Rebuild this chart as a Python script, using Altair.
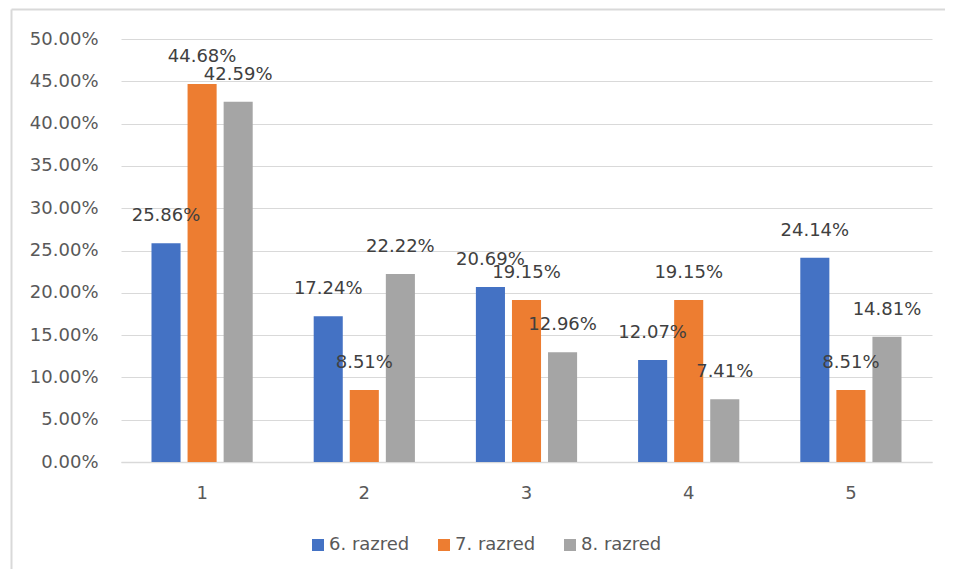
import altair as alt
import pandas as pd

categories = ["1", "2", "3", "4", "5"]
series = ["6. razred", "7. razred", "8. razred"]
values_6 = [25.86, 17.24, 20.69, 12.07, 24.14]
values_7 = [44.68, 8.51, 19.15, 19.15, 8.51]
values_8 = [42.59, 22.22, 12.96, 7.41, 14.81]
colors = ["#4472C4", "#ED7D31", "#A5A5A5"]
y_ticks = [0, 0.05, 0.10, 0.15, 0.20, 0.25, 0.30, 0.35, 0.40, 0.45, 0.50]

rows = []
for s, vals in zip(series, [values_6, values_7, values_8]):
    for c, v in zip(categories, vals):
        rows.append({"cat": c, "series": s, "value": v / 100.0})
df = pd.DataFrame(rows)

FONT = "DejaVu Sans"
W, H = 811, 423

x_enc = alt.X("cat:N", sort=categories,
              scale=alt.Scale(paddingInner=0.376, paddingOuter=0.188),
              axis=alt.Axis(title=None, labelAngle=0, ticks=False, grid=False,
                            domainColor="#d9d9d9", domainWidth=1.5,
                            labelFont=FONT, labelFontSize=18, labelColor="#595959",
                            labelPadding=22))
xo_enc = alt.XOffset("series:N", sort=series,
                     scale=alt.Scale(paddingInner=0.194, paddingOuter=0))
y_enc = alt.Y("value:Q", scale=alt.Scale(domain=[0, 0.5], nice=False),
              axis=alt.Axis(title=None, format=".2%", values=y_ticks, ticks=False,
                            domain=False, gridColor="#d9d9d9", gridWidth=1.2,
                            labelFont=FONT, labelFontSize=18, labelColor="#595959",
                            labelPadding=23))

bars = alt.Chart(df).mark_bar().encode(
    x=x_enc,
    xOffset=xo_enc,
    y=y_enc,
    color=alt.Color("series:N", sort=series,
                    scale=alt.Scale(domain=series, range=colors),
                    legend=alt.Legend(title=None, orient="none", direction="horizontal",
                                      legendX=188, legendY=497, padding=0,
                                      symbolType="square", symbolSize=144,
                                      symbolStrokeWidth=0, labelOffset=2,
                                      columnPadding=25,
                                      labelFont=FONT, labelFontSize=18,
                                      labelColor="#595959")),
)

labels = alt.Chart(df).mark_text(
    dy=-27, baseline="middle", align="center", font=FONT, fontSize=18, color="#404040"
).encode(
    x=alt.X("cat:N", sort=categories),
    xOffset=alt.XOffset("series:N", sort=series),
    y=alt.Y("value:Q"),
    text=alt.Text("value:Q", format=".2%"),
)

frame_df = pd.DataFrame({"a": [0]})
top_border = alt.Chart(frame_df).mark_rule(color="#d9d9d9", strokeWidth=2).encode(
    x=alt.value(-109.5), x2=alt.value(W + 20), y=alt.value(-29.5)
)
left_border = alt.Chart(frame_df).mark_rule(color="#d9d9d9", strokeWidth=2).encode(
    x=alt.value(-109.5), y=alt.value(-29.5), y2=alt.value(H + 120)
)

chart = alt.layer(top_border, left_border, bars, labels).properties(
    width=W, height=H,
    background="white",
    autosize=alt.AutoSizeParams(type="none"),
    padding={"left": 113, "top": 31, "right": 13, "bottom": 107},
).configure_view(stroke="transparent", strokeWidth=0)

chart.save("out.html", embed_options={"renderer": "svg", "actions": False})
